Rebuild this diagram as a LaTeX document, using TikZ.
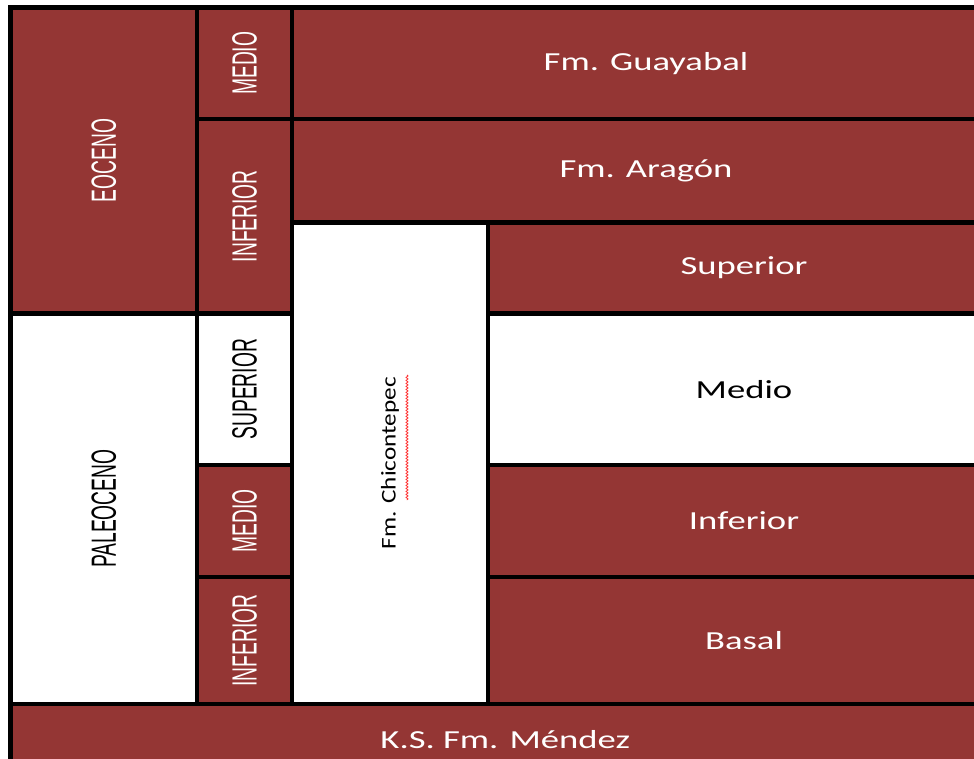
\documentclass[tikz,border=0pt]{standalone}
\usepackage{fontspec}
\setmainfont{Carlito}
\newfontfamily\widefont[FakeStretch=1.41]{Carlito}
\newfontfamily\vertfont[FakeStretch=1.2]{Carlito}
\newfontfamily\narrowfont[FakeStretch=0.55]{Liberation Sans}
\usetikzlibrary{decorations.pathmorphing}
\definecolor{rojo}{HTML}{943634}

\begin{document}
\begin{tikzpicture}[x=1pt,y=-1pt]

\tikzset{cell/.style 2 args = {shape=rectangle,draw=black,line width=4.5pt,fill=rojo,text=white,inner sep=0pt,minimum width=#1,minimum height=#2}}
\tikzset{blank/.style = {fill=white,text=black}}
\tikzset{era/.style = {font=\narrowfont\fontsize{35}{40}\selectfont}}
\tikzset{fm/.style = {font=\widefont\fontsize{26}{30}\selectfont}}
\tikzset{squiggle/.style = {draw=red!80,line width=0.8pt,decorate,decoration={snake,amplitude=1pt,segment length=3pt}}}
\clip (0,0) rectangle (974,759);
% cells
\node[cell={186.5pt}{306pt},era] (eoceno) at (103.75,160.5) {\rotatebox{90}{EOCENO}};
\node[cell={186.5pt}{390.5pt},era,blank] (paleoceno) at (103.75,508.75) {\rotatebox{90}{PALEOCENO}};
\node[cell={95pt}{111.5pt},era] (medioE) at (244.5,63.25) {\rotatebox{90}{MEDIO}};
\node[cell={95pt}{194.5pt},era] (inferiorE) at (244.5,216.25) {\rotatebox{90}{INFERIOR}};
\node[cell={95pt}{151.5pt},era,blank] (superiorP) at (244.5,389.25) {\rotatebox{90}{SUPERIOR}};
\node[cell={95pt}{112pt},era] (medioP) at (244.5,521) {\rotatebox{90}{MEDIO}};
\node[cell={95pt}{127pt},era] (inferiorP) at (244.5,640.5) {\rotatebox{90}{INFERIOR}};
\node[cell={708pt}{111.5pt},fm] (guayabal) at (646,63.25) {Fm. Guayabal};
\node[cell={708pt}{103.5pt},fm] (aragon) at (646,170.75) {Fm. Aragón};
\node[cell={196pt}{481.5pt},blank,font=\vertfont\fontsize{21}{25}\selectfont] (chicontepec) at (390,463.25) {\rotatebox{90}{Fm. Chicontepec}};
\node[cell={512pt}{91pt},fm] (superior) at (744,268) {Superior};
\node[cell={512pt}{151.5pt},fm,blank] (medio) at (744,389.25) {Medio};
\node[cell={512pt}{112pt},fm] (inferior) at (744,521) {Inferior};
\node[cell={512pt}{127pt},fm] (basal) at (744,640.5) {Basal};
\node[cell={989.5pt}{72pt},fm] (mendez) at (505.25,740) {K.S. Fm. Méndez};
% squiggle
\draw[squiggle] (407,375) -- (407,500);
\end{tikzpicture}
\end{document}
